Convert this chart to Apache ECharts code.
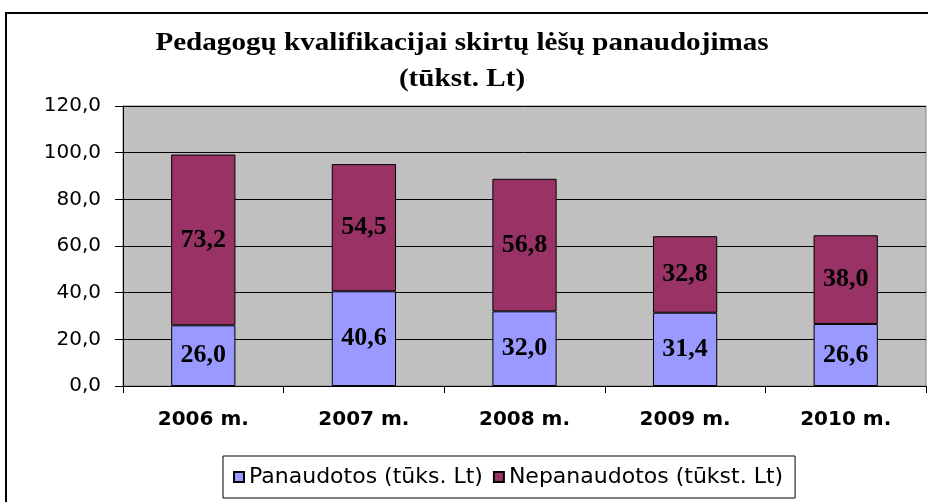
<!DOCTYPE html>
<html>
<head>
<meta charset="utf-8">
<script src="https://cdn.jsdelivr.net/npm/echarts@6/dist/echarts.min.js"></script>
<style>
    html, body { margin: 0; padding: 0; background: #fff; }
    #main { width: 928px; height: 502px; }
</style>
</head>
<body>
<div id="main"></div>
<script>
// duomenys
var categories = ['2006 m.', '2007 m.', '2008 m.', '2009 m.', '2010 m.'];
var panaudotos = [26.0, 40.6, 32.0, 31.4, 26.6];
var nepanaudotos = [73.2, 54.5, 56.8, 32.8, 38.0];
var seriesNames = ['Panaudotos (tūks. Lt)', 'Nepanaudotos (tūkst. Lt)'];
var titleLines = ['Pedagogų kvalifikacijai skirtų lėšų panaudojimas', '(tūkst. Lt)'];

var fmt = function(v) {
    return v.toFixed(1).replace('.', ',');
};

var myChart = echarts.init(document.getElementById('main'));
var barLabel = {
    show : true,
    position : 'inside',
    color : '#000',
    fontFamily : 'Liberation Serif',
    fontWeight : 'bold',
    fontSize : 26,
    formatter : function(p) {
        return fmt(p.value);
    }
};
// pavadinimas - šiek tiek išplėstas horizontaliai
var titleText = function(txt, y) {
    return {
        type : 'text',
        x : 462,
        y : y,
        scaleX : 1.12,
        silent : true,
        style : {
            text : txt,
            fill : '#000',
            fontFamily : 'Liberation Serif',
            fontWeight : 'bold',
            fontSize : 26,
            textAlign : 'center',
            textVerticalAlign : 'middle'
        }
    };
};
var option = {
    animation : false,
    backgroundColor : '#fff',
    legend : {
        data : seriesNames,
        left : 223,
        top : 456,
        padding : [10, 12, 10, 10],
        itemGap : 10,
        itemWidth : 10,
        itemHeight : 10,
        borderColor : '#000',
        borderWidth : 1,
        icon : 'rect',
        textStyle : {
            fontFamily : 'DejaVu Sans',
            fontSize : 22,
            color : '#000'
        }
    },
    graphic : [ {
        type : 'rect',
        shape : { x : 6, y : 13, width : 930, height : 500 },
        style : { fill : 'none', stroke : '#000', lineWidth : 2 },
        silent : true
    }, titleText(titleLines[0], 43), titleText(titleLines[1], 79) ],
    grid : {
        left : 123,
        right : 2,
        top : 106,
        bottom : 116,
        show : true,
        backgroundColor : '#C0C0C0',
        borderColor : '#808080',
        borderWidth : 1
    },
    xAxis : {
        type : 'category',
        data : categories,
        axisLine : { lineStyle : { color : '#000', width : 1 } },
        axisTick : { show : true, length : 7, lineStyle : { color : '#000' } },
        axisLabel : {
            margin : 24,
            color : '#000',
            fontFamily : 'DejaVu Sans',
            fontWeight : 'bold',
            fontSize : 20
        }
    },
    yAxis : {
        type : 'value',
        min : 0,
        max : 120,
        interval : 20,
        axisLine : { show : true, lineStyle : { color : '#000' } },
        axisTick : { show : true, length : 8, lineStyle : { color : '#000' } },
        splitLine : { lineStyle : { color : '#000', width : 1 } },
        axisLabel : {
            margin : 22,
            color : '#000',
            fontFamily : 'DejaVu Sans',
            fontSize : 20,
            formatter : function(v) {
                return fmt(v);
            }
        }
    },
    series : [ {
        name : seriesNames[0],
        type : 'bar',
        stack : 'total',
        barWidth : '40%',
        data : panaudotos,
        itemStyle : { color : '#9999FF', borderColor : '#000', borderWidth : 1 },
        label : barLabel
    }, {
        name : seriesNames[1],
        type : 'bar',
        stack : 'total',
        barWidth : '40%',
        data : nepanaudotos,
        itemStyle : { color : '#993366', borderColor : '#000', borderWidth : 1 },
        label : barLabel
    } ]
};
myChart.setOption(option);
</script>
</body>
</html>
